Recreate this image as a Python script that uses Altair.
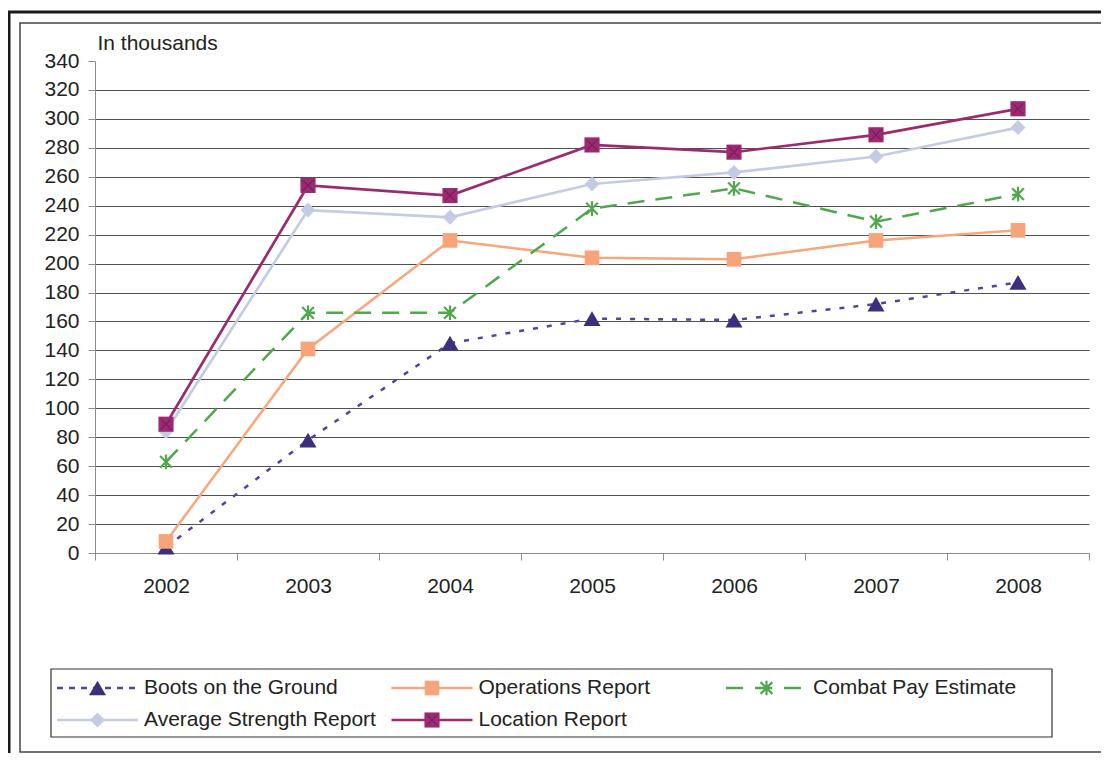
import altair as alt
import pandas as pd

# ---------------- data ----------------
years = ["2002", "2003", "2004", "2005", "2006", "2007", "2008"]
boots = [4, 78, 145, 162, 161, 172, 187]
operations = [8, 141, 216, 204, 203, 216, 223]
combat = [63, 166, 166, 238, 252, 229, 248]
avg_strength = [84, 237, 232, 255, 263, 274, 294]
location = [89, 254, 247, 282, 277, 289, 307]
series_names = [
    "Boots on the Ground",
    "Operations Report",
    "Combat Pay Estimate",
    "Average Strength Report",
    "Location Report",
]
series_values = [boots, operations, combat, avg_strength, location]
y_ticks = list(range(0, 341, 20))

# ---------------- styles / layout ----------------
W, H = 994, 492
FONT = "Liberation Sans"
ASTERISK = "M-0.8,-0.8L0.8,0.8M-0.8,0.8L0.8,-0.8M0,-1L0,1"
XMARK = "M-0.7,-0.7L0.7,0.7M-0.7,0.7L0.7,-0.7"

styles = [
    dict(line="#5b3f9c", marker="#3d2e7e", shape="triangle-up", size=290, dash=[5, 9], ldash=[6, 6], lw=2.5, filled=True),
    dict(line="#f8a67c", marker="#f7a47a", shape="square", size=215, dash=None, ldash=None, lw=2.5, filled=True),
    dict(line="#4fa84c", marker="#4fa84c", shape=ASTERISK, size=215, dash=[17, 11], ldash=[17, 12], lw=2.5, filled=False),
    dict(line="#c4cce5", marker="#c4cce5", shape="diamond", size=225, dash=None, ldash=None, lw=2.7, filled=True),
    dict(line="#9c2a6f", marker="#9c2a73", shape="square", size=230, dash=None, ldash=None, lw=2.7, filled=True, overlay=True),
]

rows = []
for name, vals in zip(series_names, series_values):
    for yr, v in zip(years, vals):
        rows.append({"series": name, "year": yr, "value": v})
df = pd.DataFrame(rows)

x_enc = alt.X(
    "year:O",
    bandPosition=0.5,
    scale=alt.Scale(type="band", paddingInner=0, paddingOuter=0, domain=years),
    axis=alt.Axis(
        title=None, labelAngle=0, tickBand="extent", grid=False,
        domainColor="#8c8c8c", tickColor="#8c8c8c", tickSize=7,
        labelPadding=15, labelFont=FONT, labelFontSize=21, labelColor="#222222",
    ),
)
y_enc = alt.Y(
    "value:Q",
    scale=alt.Scale(domain=[0, 340], nice=False, zero=True),
    axis=alt.Axis(
        values=y_ticks, title="In thousands", titleAngle=0, titleX=2, titleY=-12,
        titleAlign="left", titleBaseline="alphabetic", titleFont=FONT,
        titleFontSize=21, titleFontWeight="normal", titleColor="#222222",
        labelFont=FONT, labelFontSize=21, labelColor="#222222", labelPadding=9,
        tickSize=7, tickColor="#8c8c8c", domainColor="#8c8c8c",
        grid=True, gridColor="#505050", gridWidth=1,
        gridOpacity={"condition": {"test": "datum.value >= 340", "value": 0}, "value": 1},
    ),
)

one = pd.DataFrame({"k": [0]})

# frames (decoration)
frames = [
    alt.Chart(one).mark_rect(fill="transparent", stroke="#1a1a1a", strokeWidth=3).encode(
        x=alt.value(-86), x2=alt.value(1040), y=alt.value(-49), y2=alt.value(730)),
    alt.Chart(one).mark_rect(fill="transparent", stroke="#444444", strokeWidth=1.5).encode(
        x=alt.value(-75), x2=alt.value(1030), y=alt.value(-38), y2=alt.value(691)),
]

layers = []
for name, st in zip(series_names, styles):
    sub = alt.Chart(df).transform_filter(alt.datum.series == name)
    lk = dict(color=st["line"], strokeWidth=st["lw"])
    if st["dash"]:
        lk["strokeDash"] = st["dash"]
    layers.append(sub.mark_line(**lk).encode(x=x_enc, y=y_enc))
    pk = dict(shape=st["shape"], size=st["size"], opacity=1, filled=st["filled"], color=st["marker"])
    if not st["filled"]:
        pk["strokeWidth"] = 2.2
    layers.append(sub.mark_point(**pk).encode(x=x_enc, y=y_enc))
    if st.get("overlay"):
        layers.append(sub.mark_point(shape=XMARK, size=st["size"], filled=False, opacity=1,
                                     color="#7e1c5b", strokeWidth=1.2).encode(x=x_enc, y=y_enc))

# legend (drawn manually)
LX0, LSTEP, LLEN = -38, 334.5, 81
LROWS = [627, 659]
legend = [
    alt.Chart(one).mark_rect(fill="white", stroke="#333333", strokeWidth=1.2).encode(
        x=alt.value(-44), x2=alt.value(957), y=alt.value(608), y2=alt.value(676)),
]
for i, (name, st) in enumerate(zip(series_names, styles)):
    c, r = i % 3, i // 3
    x0 = LX0 + c * LSTEP
    ly = LROWS[r]
    rk = dict(color=st["line"], strokeWidth=st["lw"])
    if st["ldash"]:
        rk["strokeDash"] = st["ldash"]
    legend.append(alt.Chart(one).mark_rule(**rk).encode(
        x=alt.value(x0), x2=alt.value(x0 + LLEN), y=alt.value(ly)))
    pk = dict(shape=st["shape"], size=st["size"], opacity=1, filled=st["filled"], color=st["marker"])
    if not st["filled"]:
        pk["strokeWidth"] = 2.2
    legend.append(alt.Chart(one).mark_point(**pk).encode(
        x=alt.value(x0 + LLEN / 2), y=alt.value(ly)))
    if st.get("overlay"):
        legend.append(alt.Chart(one).mark_point(shape=XMARK, size=st["size"], filled=False, opacity=1,
                                                color="#7e1c5b", strokeWidth=1.2).encode(
            x=alt.value(x0 + LLEN / 2), y=alt.value(ly)))
    legend.append(alt.Chart(pd.DataFrame({"t": [name]})).mark_text(
        align="left", baseline="middle", font=FONT, fontSize=21, color="#222222").encode(
        text="t:N", x=alt.value(x0 + 87), y=alt.value(ly)))

chart = alt.layer(*frames, *layers, *legend).properties(
    width=W, height=H,
    autosize=alt.AutoSizeParams(type="none"),
    padding={"left": 87, "top": 53, "right": 12, "bottom": 200},
    background="white",
).configure_view(stroke="transparent")

chart.save("out.html", embed_options={"renderer": "svg", "actions": False})
